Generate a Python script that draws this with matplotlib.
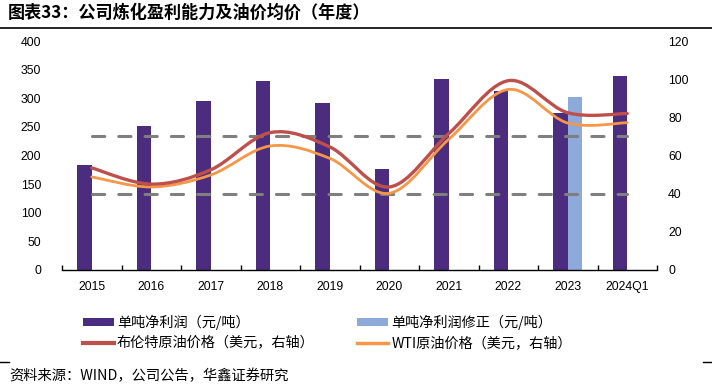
import numpy as np
import matplotlib
matplotlib.use("Agg")
import matplotlib.pyplot as plt
from matplotlib.path import Path
from matplotlib.patches import PathPatch, Patch
from matplotlib.lines import Line2D

# ---------------- data ----------------
categories = ["2015", "2016", "2017", "2018", "2019", "2020", "2021", "2022", "2023", "2024Q1"]
profit = [183, 252, 295, 330, 291, 176, 334, 313, 274, 339]           # 单吨净利润 (元/吨)
profit_revised = [np.nan] * 8 + [302, np.nan]                          # 单吨净利润修正 (元/吨)
brent = [53.5, 45.0, 52.5, 72.0, 64.5, 43.5, 71.5, 99.2, 82.4, 82.0]  # 布伦特 (美元, 右轴)
wti = [48.8, 43.5, 49.8, 65.0, 58.5, 40.2, 68.5, 94.6, 77.0, 77.2]    # WTI (美元, 右轴)
ref_levels = [70, 40]                                                  # 参考虚线 (右轴)
left_ticks = [0, 50, 100, 150, 200, 250, 300, 350, 400]
right_ticks = [0, 20, 40, 60, 80, 100, 120]

title = "图表33：公司炼化盈利能力及油价均价（年度）"
source = "资料来源：WIND，公司公告，华鑫证券研究"
labels = ["单吨净利润（元/吨）", "单吨净利润修正（元/吨）", "布伦特原油价格（美元，右轴）", "WTI原油价格（美元，右轴）"]

C_DARK = "#4B2C7E"
C_LIGHT = "#8EAADB"
C_BRENT = "#BE504C"
C_WTI = "#F79646"
C_DASH = "#7F7F7F"

CJK = ["Noto Sans CJK SC", "DejaVu Sans"]
NUM = ["Liberation Sans", "DejaVu Sans"]

W, H = 712, 388
fig = plt.figure(figsize=(W / 100, H / 100), dpi=100)
fig.patch.set_facecolor("white")

L, R, B, T = 62, 657, 270, 41
ax = fig.add_axes([L / W, 1 - B / H, (R - L) / W, (B - T) / H])
ax2 = ax.twinx()

x = np.arange(len(categories))
bw = 0.245
ax.bar(x - bw / 2, profit, width=bw, color=C_DARK, zorder=2)
ax.bar(x + bw / 2, profit_revised, width=bw, color=C_LIGHT, zorder=2)

ax.set_xlim(-0.5, len(categories) - 0.5)
ax.set_ylim(0, 400)
ax2.set_ylim(0, 120)

# reference dashed lines (right axis)
for lv in ref_levels:
    ax2.plot([x[0], x[-1]], [lv, lv], color=C_DASH, lw=2.2,
             dashes=(4.0, 4.6), dash_capstyle="round", zorder=3)


def smooth_path(xs, ys):
    xs = np.asarray(xs, float)
    ys = np.asarray(ys, float)
    pts = np.column_stack([xs, ys])
    n = len(pts)
    verts = [pts[0]]
    codes = [Path.MOVETO]
    for i in range(n - 1):
        p0 = pts[i - 1] if i > 0 else pts[i]
        p1 = pts[i]
        p2 = pts[i + 1]
        p3 = pts[i + 2] if i + 2 < n else pts[i + 1]
        c1 = p1 + (p2 - p0) / 6.0
        c2 = p2 - (p3 - p1) / 6.0
        verts += [c1, c2, p2]
        codes += [Path.CURVE4] * 3
    return Path(verts, codes)


ax2.add_patch(PathPatch(smooth_path(x, wti), fill=False, edgecolor=C_WTI, lw=2.0,
                        capstyle="round", zorder=4))
ax2.add_patch(PathPatch(smooth_path(x, brent), fill=False, edgecolor=C_BRENT, lw=2.4,
                        capstyle="round", zorder=5))

# axes styling
for a in (ax, ax2):
    for s in ("top", "left", "right"):
        a.spines[s].set_visible(False)
ax2.spines["bottom"].set_visible(False)
ax.spines["bottom"].set_linewidth(1.0)
ax.spines["bottom"].set_color("black")
ax.patch.set_visible(False)

ax.set_xticks(np.arange(-0.5, len(categories), 1.0))
ax.set_xticklabels([])
ax.tick_params(axis="x", which="major", direction="in", length=3.5, width=1.0, color="black")
ax.set_xticks(x, minor=True)
ax.set_xticklabels(categories, minor=True, fontfamily=NUM, fontsize=8.8)
ax.tick_params(axis="x", which="minor", length=0, pad=8)

ax.set_yticks(left_ticks)
ax.set_yticklabels([str(v) for v in left_ticks], fontfamily=NUM, fontsize=8.8)
ax.tick_params(axis="y", length=0, pad=15)

ax2.set_yticks(right_ticks)
ax2.set_yticklabels([str(v) for v in right_ticks], fontfamily=NUM, fontsize=8.8)
ax2.tick_params(axis="y", length=0, pad=8)

# legend (column-major fill: col1 = items 0,2 ; col2 = items 1,3)
handles = [
    Patch(facecolor=C_DARK, edgecolor="none"),
    Patch(facecolor=C_LIGHT, edgecolor="none"),
    Line2D([], [], color=C_BRENT, lw=3),
    Line2D([], [], color=C_WTI, lw=2.5),
]
order = [0, 2, 1, 3]
leg = fig.legend([handles[i] for i in order], [labels[i] for i in order],
                 loc="upper left", bbox_to_anchor=(73 / W, 1 - 305 / H),
                 ncol=2, frameon=False, prop={"family": CJK, "size": 10.2},
                 handlelength=2.2, handleheight=0.5, handletextpad=0.2,
                 columnspacing=3.0, labelspacing=0.45, borderpad=0.2)

# title, rules, source
fig.text(8 / W, 1 - 13 / H, title, fontfamily=CJK, fontsize=12.3, fontweight="bold",
         va="center", ha="left")
fig.add_artist(Line2D([0, 1], [1 - 28 / H, 1 - 28 / H], color="black", lw=1.2,
                      transform=fig.transFigure))
fig.add_artist(Line2D([0, 9 / W], [1 - 362 / H, 1 - 362 / H], color="black", lw=1.0,
                      transform=fig.transFigure))
fig.add_artist(Line2D([1 - 9 / W, 1], [1 - 362 / H, 1 - 362 / H], color="black", lw=1.0,
                      transform=fig.transFigure))
fig.text(9 / W, 1 - 376 / H, source, fontfamily=CJK, fontsize=10.3, va="center", ha="left")

fig.savefig("out.png", dpi=100, facecolor="white")
